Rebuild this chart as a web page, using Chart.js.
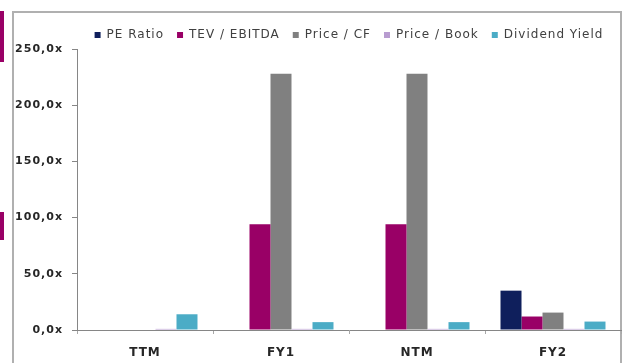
<!DOCTYPE html>
<html>
<head>
<meta charset="utf-8">
<script src="https://cdn.jsdelivr.net/npm/chart.js@4.4.1/dist/chart.umd.min.js"></script>
<style>
  body { margin: 0; background: #ffffff; }
  #wrap { position: relative; width: 627px; height: 363px; overflow: hidden; }
  .mark { position: absolute; left: 0; width: 4px; background: #990066; }
  .edge { position: absolute; background: #b0b0b0; }
  canvas { position: absolute; left: 0; top: 0; }
</style>
</head>
<body>
<div id="wrap">
  <div class="mark" style="top:11px;height:51px"></div>
  <div class="mark" style="top:212px;height:28px"></div>
  <!-- chart box border, drawn as three strips -->
  <div class="edge" style="left:12px;top:11px;width:2px;height:352px"></div>
  <div class="edge" style="left:12px;top:11px;width:610px;height:2px"></div>
  <div class="edge" style="left:620px;top:11px;width:2px;height:352px"></div>
  <canvas id="myChart" width="627" height="363"></canvas>
</div>
<script>
// chart data
const CATEGORIES = ["TTM", "FY1", "NTM", "FY2"]
const PE_RATIO = [null, null, null, 35]
const TEV_EBITDA = [null, 94, 94, 12]
const PRICE_CF = [null, 228, 228, 15.5]
const PRICE_BOOK = [1, 1, 1, 1]
const DIV_YIELD = [14, 7, 7, 7.5]
const Y_TICKS = [0, 50, 100, 150, 200, 250]

const AXIS_GREY = "#868686"

// canvas gets reset on resize so set the spacing again before layout and draw
function spacing(chart) {
  chart.ctx.letterSpacing = "1px"
}

const fixPlugin = {
  id: "fix",
  beforeInit(chart) {
    // legend height is fixed so the plot starts where the picture does
    const fit = chart.legend.fit
    chart.legend.fit = function () {
      fit.call(this)
      this.height = 33
    }
  },
  beforeLayout: spacing,
  beforeDraw: spacing
}

function bars(label, data, color) {
  return { label: label, data: data, backgroundColor: color, borderWidth: 0 }
}

const ctx = document.getElementById("myChart").getContext("2d")
const chart = new Chart(ctx, {
  type: "bar",
  data: {
    labels: CATEGORIES,
    datasets: [
      bars("PE Ratio", PE_RATIO, "#0f1f5c"),
      bars("TEV / EBITDA", TEV_EBITDA, "#990066"),
      bars("Price / CF", PRICE_CF, "#808080"),
      bars("Price / Book", PRICE_BOOK, "#b89cd0"),
      bars("Dividend Yield", DIV_YIELD, "#4bacc6")
    ]
  },
  options: {
    responsive: false,
    animation: false,
    devicePixelRatio: 1,
    layout: { padding: { left: 13, right: 6, top: 16, bottom: 0 } },
    datasets: { bar: { barPercentage: 1, categoryPercentage: 0.772 } },
    plugins: {
      tooltip: { enabled: false },
      legend: {
        position: "top",
        fullSize: false,
        labels: {
          boxWidth: 6,
          boxHeight: 6,
          padding: 13,
          color: "#404040",
          font: { family: "DejaVu Sans", size: 12 }
        }
      }
    },
    scales: {
      x: {
        offset: true,
        afterFit(scale) { scale.height = 33 },
        border: { display: true, color: AXIS_GREY, width: 1 },
        grid: { offset: true, drawOnChartArea: false, drawTicks: true, tickLength: 4, color: "#a8a8a8" },
        ticks: { color: "#262626", padding: 12, font: { family: "DejaVu Sans", size: 12, weight: "bold" } }
      },
      y: {
        min: 0,
        max: 250,
        afterFit(scale) { scale.width = 64 },
        afterBuildTicks(scale) { scale.ticks = Y_TICKS.map(v => ({ value: v })) },
        border: { display: true, color: AXIS_GREY, width: 1 },
        grid: { drawOnChartArea: false, drawTicks: true, tickLength: 5, color: AXIS_GREY },
        ticks: {
          color: "#262626",
          padding: 9,
          font: { family: "DejaVu Sans", size: 11, weight: "bold" },
          callback: v => v.toFixed(1).replace(".", ",") + "x"
        }
      }
    }
  },
  plugins: [fixPlugin]
})
</script>
</body>
</html>
